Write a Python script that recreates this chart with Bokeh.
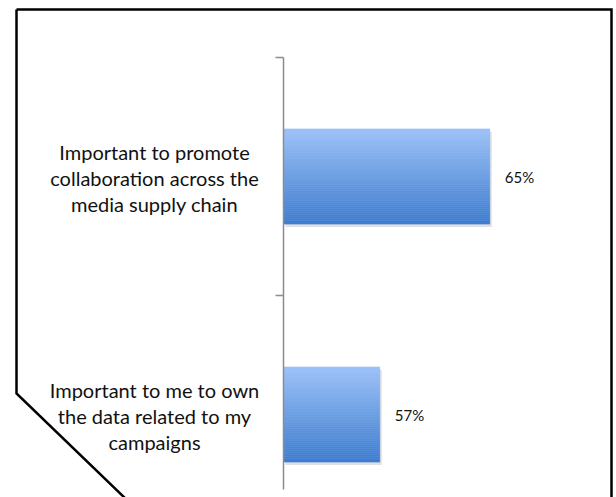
from bokeh.plotting import figure
from bokeh.models import Range1d, LinearAxis, FixedTicker
from bokeh.core.properties import value
from bokeh.embed import file_html
from bokeh.resources import INLINE

# --- data -------------------------------------------------------------
categories = [
    "Important to promote\ncollaboration across the\nmedia supply chain",
    "Important to me to own\nthe data related to my\ncampaigns",
]
shares = [65, 57]          # percent of respondents
share_labels = ["65%", "57%"]

# --- canvas / scale setup ------------------------------------------------
W, H = 616, 497
AXIS_W = 0                  # the fixed-location axis takes no side panel room
PX_PER_PCT = 13.75          # horizontal scale
PX_PER_ROW = 238.0          # height of one category band
AXIS_MIN = 50               # value axis starts here
AXIS_PX = 283               # canvas x of the value-axis line
TOP_PX = 57                 # canvas y of the top band edge
AXIS_BOTTOM_PX = 489

x0 = AXIS_MIN - (AXIS_PX - AXIS_W) / PX_PER_PCT
x1 = x0 + (W - AXIS_W) / PX_PER_PCT
n = len(categories)
y1 = n + TOP_PX / PX_PER_ROW
y0 = n - (H - TOP_PX) / PX_PER_ROW


def px_x(px):
    return x0 + (px - AXIS_W) / PX_PER_PCT


def px_y(py):
    return y1 - py / PX_PER_ROW


p = figure(width=W, height=H, output_backend="svg", toolbar_location=None,
           x_range=Range1d(x0, x1), y_range=Range1d(y0, y1),
           x_axis_location=None, y_axis_location=None,
           min_border=0, outline_line_color=None)
p.xgrid.visible = False
p.ygrid.visible = False
p.background_fill_color = "white"
p.border_fill_color = "white"

# category axis with ticks on band edges, standing at the value-axis minimum
yaxis = LinearAxis(fixed_location=AXIS_MIN,
                   ticker=FixedTicker(ticks=list(range(n + 1))),
                   major_label_overrides={i: "" for i in range(n + 1)},
                   major_label_standoff=0,
                   major_tick_out=8, major_tick_in=0,
                   minor_tick_out=0, minor_tick_in=0,
                   axis_line_color="#8c8c8c", axis_line_width=1.5,
                   major_tick_line_color="#8c8c8c", major_tick_line_width=1.5,
                   bounds=(px_y(AXIS_BOTTOM_PX), n))
p.add_layout(yaxis, "left")

# band centres, top category first
centers = [n - 0.5 - i for i in range(n)]
bar_h = 0.4

# soft drop shadow under each bar
sx = 2 / PX_PER_PCT
sy = 3 / PX_PER_ROW
p.hbar(y=[c - sy for c in centers], height=bar_h, left=AXIS_MIN + sx,
       right=[v + sx for v in shares], fill_color="#000000",
       fill_alpha=0.12, line_color=None)

# vertical gradient fill built from thin horizontal strips
top_rgb = (155, 193, 250)
bot_rgb = (62, 126, 209)
steps = 48
ys, rights, colors = [], [], []
for c, v in zip(centers, shares):
    for k in range(steps):
        t = k / (steps - 1)
        rgb = tuple(int(round(a + (b - a) * t)) for a, b in zip(top_rgb, bot_rgb))
        ys.append(c + bar_h / 2 - (k + 0.5) * bar_h / steps)
        rights.append(v)
        colors.append("#%02x%02x%02x" % rgb)
p.hbar(y=ys, height=bar_h / steps, left=AXIS_MIN, right=rights,
       fill_color=colors, line_color=colors, line_width=0.6)

# value labels
p.text(x=shares, y=centers, text=share_labels, x_offset=15,
       text_font=value("Lato"), text_font_size="15px",
       text_baseline="middle", text_align="left", text_color="#111111")

# category labels, centred left of the axis
label_x = px_x(154)
p.text(x=[label_x] * n, y=[c - 0.005 for c in centers], text=categories,
       text_font=value("Lato"), text_font_size="20px",
       text_line_height=1.08, text_baseline="middle", text_align="center",
       text_color="#111111")

# outer frame with the folded lower-left corner
fx = [16, 611, 611, 127, 16, 16]
fy = [9, 9, 500, 500, 393, 9]
p.line(x=[px_x(v) for v in fx], y=[px_y(v) for v in fy],
       line_color="black", line_width=2.5, line_join="miter")

open("out.html", "w").write(file_html(p, INLINE))
